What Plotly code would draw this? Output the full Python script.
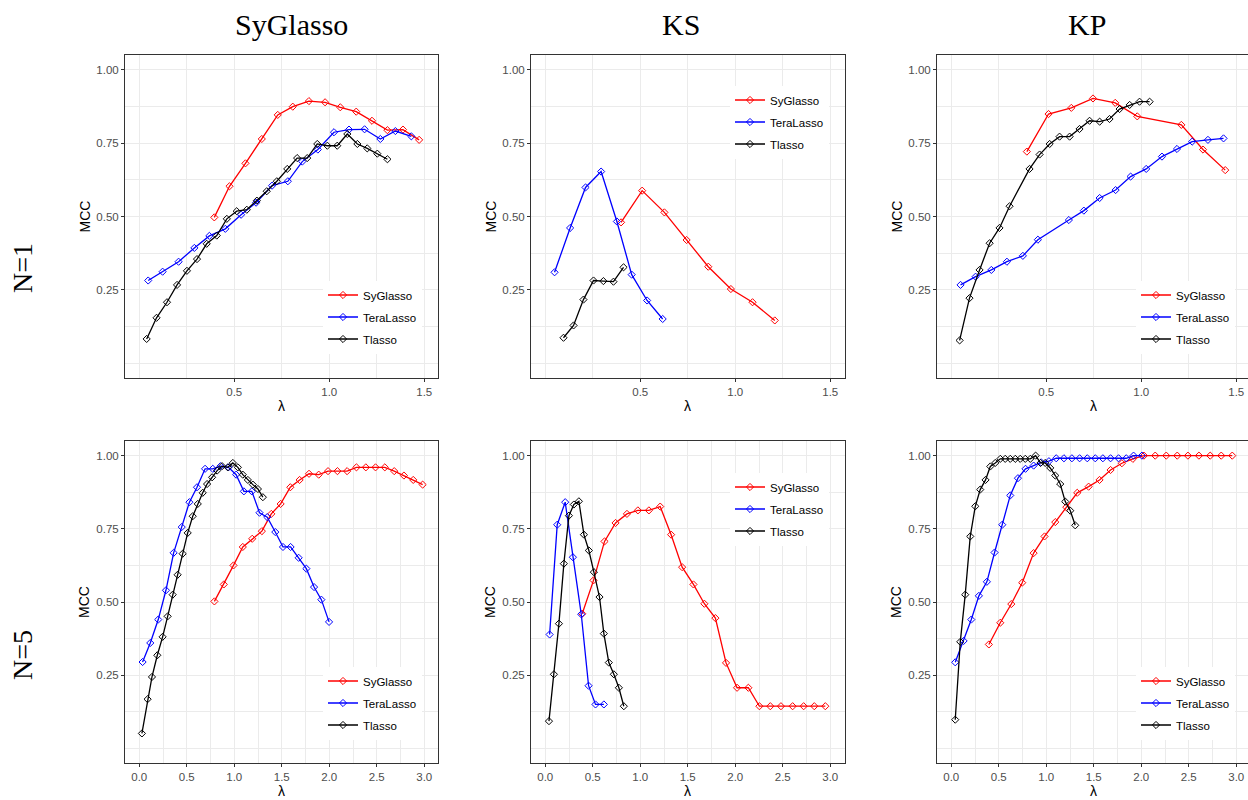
import plotly.graph_objects as go

W, H = 1248, 800

methods = ["SyGlasso", "TeraLasso", "Tlasso"]
method_colors = ["#FF0000", "#0000FF", "#000000"]
col_titles = ["SyGlasso", "KS", "KP"]
row_titles = ["N=1", "N=5"]

y_ticks = [0.25, 0.5, 0.75, 1.0]
y_ticklabels = ["0.25", "0.50", "0.75", "1.00"]
y_minor = [0.0, 0.125, 0.375, 0.625, 0.875]
x_ticks_n1 = [0.5, 1.0, 1.5]
x_ticklabels_n1 = ["0.5", "1.0", "1.5"]
x_minor_n1 = [0.0, 0.25, 0.75, 1.25]
x_ticks_n5 = [0.0, 0.5, 1.0, 1.5, 2.0, 2.5, 3.0]
x_ticklabels_n5 = ["0.0", "0.5", "1.0", "1.5", "2.0", "2.5", "3.0"]
x_minor_n5 = [0.25, 0.75, 1.25, 1.75, 2.25, 2.75]

# ---------------- N=1, SyGlasso generating model ----------------
n1_syg_syglasso_lam = [0.395, 0.475, 0.559, 0.645, 0.729, 0.808, 0.893, 0.978, 1.058, 1.142, 1.225, 1.306, 1.388, 1.473]
n1_syg_syglasso_mcc = [0.497, 0.603, 0.681, 0.764, 0.846, 0.874, 0.893, 0.889, 0.872, 0.857, 0.826, 0.794, 0.796, 0.761]
n1_syg_teralasso_lam = [0.047, 0.123, 0.207, 0.290, 0.369, 0.453, 0.536, 0.615, 0.699, 0.782, 0.858, 0.940, 1.025, 1.104, 1.186, 1.269, 1.348, 1.432]
n1_syg_teralasso_mcc = [0.282, 0.312, 0.346, 0.393, 0.434, 0.458, 0.506, 0.547, 0.605, 0.620, 0.687, 0.728, 0.787, 0.796, 0.797, 0.764, 0.791, 0.773]
n1_syg_tlasso_lam = [0.039, 0.091, 0.146, 0.199, 0.251, 0.304, 0.355, 0.408, 0.461, 0.513, 0.566, 0.619, 0.671, 0.724, 0.779, 0.831, 0.884, 0.937, 0.990, 1.042, 1.095, 1.148, 1.200, 1.253, 1.306]
n1_syg_tlasso_mcc = [0.083, 0.155, 0.208, 0.267, 0.315, 0.355, 0.407, 0.435, 0.492, 0.518, 0.523, 0.554, 0.586, 0.620, 0.662, 0.699, 0.699, 0.747, 0.741, 0.741, 0.781, 0.747, 0.732, 0.714, 0.695]

# ---------------- N=1, KS ----------------
n1_ks_syglasso_lam = [0.399, 0.510, 0.627, 0.744, 0.858, 0.977, 1.091, 1.208]
n1_ks_syglasso_mcc = [0.480, 0.588, 0.514, 0.420, 0.329, 0.253, 0.208, 0.146]
n1_ks_teralasso_lam = [0.049, 0.131, 0.212, 0.294, 0.377, 0.455, 0.536, 0.618]
n1_ks_teralasso_mcc = [0.310, 0.461, 0.599, 0.653, 0.483, 0.302, 0.214, 0.151]
n1_ks_tlasso_lam = [0.096, 0.149, 0.201, 0.254, 0.306, 0.359, 0.412]
n1_ks_tlasso_mcc = [0.087, 0.129, 0.217, 0.282, 0.280, 0.278, 0.327]

# ---------------- N=1, KP ----------------
n1_kp_syglasso_lam = [0.398, 0.512, 0.632, 0.746, 0.863, 0.979, 1.211, 1.325, 1.442]
n1_kp_syglasso_mcc = [0.721, 0.849, 0.870, 0.902, 0.887, 0.841, 0.812, 0.728, 0.658]
n1_kp_teralasso_lam = [0.049, 0.128, 0.211, 0.293, 0.377, 0.456, 0.619, 0.698, 0.781, 0.865, 0.944, 1.026, 1.109, 1.188, 1.268, 1.351, 1.433]
n1_kp_teralasso_mcc = [0.267, 0.295, 0.318, 0.346, 0.366, 0.421, 0.488, 0.520, 0.563, 0.590, 0.636, 0.662, 0.704, 0.730, 0.755, 0.761, 0.766]
n1_kp_tlasso_lam = [0.044, 0.096, 0.149, 0.202, 0.254, 0.307, 0.412, 0.465, 0.518, 0.570, 0.623, 0.675, 0.728, 0.781, 0.833, 0.886, 0.939, 0.991, 1.044]
n1_kp_tlasso_mcc = [0.078, 0.222, 0.318, 0.409, 0.461, 0.535, 0.662, 0.711, 0.747, 0.772, 0.772, 0.798, 0.826, 0.823, 0.832, 0.866, 0.880, 0.891, 0.891]

# ---------------- N=5, SyGlasso generating model ----------------
n5_syg_syglasso_lam = [0.791, 0.890, 0.992, 1.090, 1.189, 1.291, 1.390, 1.488, 1.590, 1.688, 1.787, 1.889, 1.987, 2.086, 2.188, 2.286, 2.385, 2.487, 2.585, 2.684, 2.786, 2.884, 2.983]
n5_syg_syglasso_mcc = [0.502, 0.560, 0.625, 0.688, 0.716, 0.742, 0.801, 0.835, 0.892, 0.917, 0.938, 0.935, 0.947, 0.947, 0.947, 0.960, 0.960, 0.960, 0.960, 0.947, 0.932, 0.917, 0.901]
n5_syg_teralasso_lam = [0.035, 0.116, 0.200, 0.281, 0.362, 0.447, 0.528, 0.608, 0.693, 0.774, 0.855, 0.939, 1.020, 1.101, 1.185, 1.266, 1.347, 1.432, 1.513, 1.593, 1.678, 1.759, 1.840, 1.917, 1.998]
n5_syg_teralasso_mcc = [0.295, 0.360, 0.440, 0.540, 0.668, 0.756, 0.841, 0.892, 0.955, 0.955, 0.964, 0.960, 0.935, 0.878, 0.878, 0.805, 0.790, 0.739, 0.688, 0.688, 0.651, 0.614, 0.551, 0.508, 0.432]
n5_syg_tlasso_lam = [0.028, 0.088, 0.134, 0.190, 0.246, 0.299, 0.352, 0.404, 0.457, 0.510, 0.563, 0.616, 0.668, 0.714, 0.767, 0.820, 0.872, 0.932, 0.985, 1.038, 1.090, 1.143, 1.196, 1.249, 1.301]
n5_syg_tlasso_mcc = [0.051, 0.168, 0.244, 0.318, 0.381, 0.451, 0.525, 0.593, 0.665, 0.736, 0.793, 0.835, 0.873, 0.903, 0.926, 0.949, 0.964, 0.960, 0.975, 0.960, 0.935, 0.917, 0.901, 0.886, 0.858]

# ---------------- N=5, KS ----------------
n5_ks_syglasso_lam = [0.389, 0.508, 0.624, 0.740, 0.860, 0.975, 1.091, 1.210, 1.325, 1.441, 1.560, 1.675, 1.791, 1.903, 2.019, 2.138, 2.254, 2.369, 2.481, 2.604, 2.720, 2.832, 2.948]
n5_ks_syglasso_mcc = [0.460, 0.574, 0.707, 0.770, 0.801, 0.813, 0.813, 0.826, 0.730, 0.619, 0.560, 0.494, 0.445, 0.292, 0.207, 0.207, 0.144, 0.144, 0.144, 0.144, 0.144, 0.144, 0.144]
n5_ks_teralasso_lam = [0.046, 0.126, 0.210, 0.291, 0.379, 0.456, 0.529, 0.617]
n5_ks_teralasso_mcc = [0.389, 0.764, 0.841, 0.653, 0.458, 0.214, 0.150, 0.150]
n5_ks_tlasso_lam = [0.039, 0.091, 0.144, 0.196, 0.249, 0.301, 0.354, 0.407, 0.459, 0.512, 0.571, 0.617, 0.669, 0.722, 0.775, 0.827]
n5_ks_tlasso_mcc = [0.093, 0.253, 0.426, 0.631, 0.795, 0.833, 0.844, 0.730, 0.676, 0.602, 0.517, 0.392, 0.293, 0.253, 0.207, 0.144]

# ---------------- N=5, KP ----------------
n5_kp_syglasso_lam = [0.396, 0.516, 0.632, 0.747, 0.867, 0.982, 1.095, 1.211, 1.326, 1.446, 1.561, 1.677, 1.796, 1.912, 2.028, 2.147, 2.263, 2.379, 2.491, 2.607, 2.726, 2.842, 2.958]
n5_kp_syglasso_mcc = [0.355, 0.429, 0.493, 0.566, 0.667, 0.724, 0.773, 0.824, 0.873, 0.894, 0.917, 0.951, 0.974, 0.989, 1.0, 1.0, 1.0, 1.0, 1.0, 1.0, 1.0, 1.0, 1.0]
n5_kp_teralasso_lam = [0.042, 0.130, 0.211, 0.291, 0.375, 0.456, 0.537, 0.621, 0.702, 0.782, 0.867, 0.947, 1.028, 1.105, 1.186, 1.270, 1.351, 1.432, 1.516, 1.596, 1.677, 1.761, 1.842, 1.919, 2.007]
n5_kp_teralasso_mcc = [0.294, 0.367, 0.440, 0.521, 0.569, 0.669, 0.764, 0.864, 0.923, 0.955, 0.966, 0.977, 0.981, 0.991, 0.991, 0.991, 0.991, 0.991, 0.991, 0.991, 0.991, 0.991, 0.991, 1.0, 1.0]
n5_kp_tlasso_lam = [0.042, 0.095, 0.147, 0.200, 0.253, 0.305, 0.361, 0.411, 0.463, 0.516, 0.568, 0.621, 0.674, 0.726, 0.779, 0.832, 0.888, 0.940, 0.989, 1.042, 1.095, 1.147, 1.200, 1.253, 1.305]
n5_kp_tlasso_mcc = [0.098, 0.364, 0.525, 0.724, 0.827, 0.884, 0.917, 0.963, 0.975, 0.989, 0.989, 0.989, 0.989, 0.989, 0.989, 0.989, 1.0, 0.975, 0.975, 0.958, 0.932, 0.903, 0.843, 0.812, 0.762]

panels = [
    [(n1_syg_syglasso_lam, n1_syg_syglasso_mcc), (n1_syg_teralasso_lam, n1_syg_teralasso_mcc), (n1_syg_tlasso_lam, n1_syg_tlasso_mcc)],
    [(n1_ks_syglasso_lam, n1_ks_syglasso_mcc), (n1_ks_teralasso_lam, n1_ks_teralasso_mcc), (n1_ks_tlasso_lam, n1_ks_tlasso_mcc)],
    [(n1_kp_syglasso_lam, n1_kp_syglasso_mcc), (n1_kp_teralasso_lam, n1_kp_teralasso_mcc), (n1_kp_tlasso_lam, n1_kp_tlasso_mcc)],
    [(n5_syg_syglasso_lam, n5_syg_syglasso_mcc), (n5_syg_teralasso_lam, n5_syg_teralasso_mcc), (n5_syg_tlasso_lam, n5_syg_tlasso_mcc)],
    [(n5_ks_syglasso_lam, n5_ks_syglasso_mcc), (n5_ks_teralasso_lam, n5_ks_teralasso_mcc), (n5_ks_tlasso_lam, n5_ks_tlasso_mcc)],
    [(n5_kp_syglasso_lam, n5_kp_syglasso_mcc), (n5_kp_teralasso_lam, n5_kp_teralasso_mcc), (n5_kp_tlasso_lam, n5_kp_tlasso_mcc)],
]

# ---------------- layout geometry (pixels) ----------------
col_px = [(125, 438), (531, 845), (937, 1248)]
row_px = [(55, 378), (441, 763)]
# legend anchor: (left px, middle-entry centre px) per panel
legend_pos = [(323, 317), (730, 122), (1136, 317),
              (323, 703), (730, 509), (1136, 703)]

SANS = "Liberation Sans, Arial, sans-serif"
SERIF = "Liberation Serif, Times New Roman, serif"
GRID = "#EBEBEB"

fig = go.Figure()
layout = dict(
    width=W, height=H, margin=dict(l=0, r=0, t=0, b=0),
    paper_bgcolor="white", plot_bgcolor="white",
    font=dict(family=SANS, size=11.5, color="#4D4D4D"),
    annotations=[],
)

for p in range(6):
    r, c = divmod(p, 3)
    idx = p + 1
    sfx = "" if idx == 1 else str(idx)
    leg = "legend" if idx == 1 else f"legend{idx}"
    for m, (lam, mcc) in enumerate(panels[p]):
        fig.add_trace(go.Scatter(
            x=lam, y=mcc, mode="lines+markers", name=methods[m],
            xaxis=f"x{sfx}", yaxis=f"y{sfx}", legend=leg,
            legendgroup=f"g{idx}_{m}",
            line=dict(color=method_colors[m], width=1.3),
            marker=dict(symbol="diamond-open", size=5.5,
                        color=method_colors[m], line=dict(width=1, color=method_colors[m])),
        ))
    x0, x1 = col_px[c]
    y0, y1 = row_px[r]
    unit = 190.0 if r == 0 else 95.0
    left_val = -0.075 if r == 0 else -0.15
    zero_px = x0 + (-left_val) * unit
    right_val = (x1 - zero_px) / unit
    if r == 0:
        tv, tt, mv = x_ticks_n1, x_ticklabels_n1, x_minor_n1
    else:
        tv, tt, mv = x_ticks_n5, x_ticklabels_n5, x_minor_n5
    layout[f"xaxis{sfx}"] = dict(
        domain=[x0 / W, x1 / W], anchor=f"y{sfx}", range=[left_val, right_val],
        tickmode="array", tickvals=tv, ticktext=tt,
        showgrid=True, gridcolor=GRID, gridwidth=1.1,
        minor=dict(tickmode="array", tickvals=mv, showgrid=True, gridcolor=GRID, gridwidth=0.55, ticks=""),
        showline=True, linecolor="#333333", linewidth=1, mirror=True,
        ticks="outside", ticklen=3, tickwidth=1, tickcolor="#333333",
        tickfont=dict(family=SANS, size=11.5, color="#4D4D4D"),
        zeroline=False, fixedrange=True,
    )
    layout[f"yaxis{sfx}"] = dict(
        domain=[1 - y1 / H, 1 - y0 / H], anchor=f"x{sfx}", range=[-0.05, 1.05],
        tickmode="array", tickvals=y_ticks, ticktext=y_ticklabels,
        showgrid=True, gridcolor=GRID, gridwidth=1.1,
        minor=dict(tickmode="array", tickvals=y_minor, showgrid=True, gridcolor=GRID, gridwidth=0.55, ticks=""),
        showline=True, linecolor="#333333", linewidth=1, mirror=(c != 2),
        ticks="outside", ticklen=3, tickwidth=1, tickcolor="#333333",
        tickfont=dict(family=SANS, size=11.5, color="#4D4D4D"),
        zeroline=False, fixedrange=True,
    )
    lx, ly = legend_pos[p]
    layout[leg] = dict(
        x=lx / W, xanchor="left", y=1 - ly / H, yanchor="middle",
        bgcolor="white", borderwidth=0, traceorder="grouped", tracegroupgap=3,
        font=dict(family=SANS, size=11.5, color="#000000"),
        itemwidth=30, itemclick=False, itemdoubleclick=False,
    )
    # axis titles
    layout["annotations"].append(dict(
        text="MCC", x=(x0 - 41) / W, y=1 - ((y0 + y1) / 2) / H, xref="paper", yref="paper",
        xanchor="center", yanchor="middle", textangle=-90, showarrow=False,
        font=dict(family=SANS, size=14, color="#000000")))
    px_center = (col_px[c][0] + (col_px[c][0] + 313)) / 2
    layout["annotations"].append(dict(
        text="λ", x=px_center / W, y=1 - (y1 + 28) / H, xref="paper", yref="paper",
        xanchor="center", yanchor="middle", showarrow=False,
        font=dict(family=SANS, size=14, color="#000000")))

for c, (t, cx) in enumerate(zip(col_titles, [291, 681, 1087])):
    layout["annotations"].append(dict(
        text=t, x=cx / W, y=1 - 24 / H, xref="paper", yref="paper",
        xanchor="center", yanchor="middle", showarrow=False,
        font=dict(family=SERIF, size=30, color="#000000")))

for r, (t, cy) in enumerate(zip(row_titles, [268, 655])):
    layout["annotations"].append(dict(
        text=t, x=22 / W, y=1 - cy / H, xref="paper", yref="paper",
        xanchor="center", yanchor="middle", textangle=-90, showarrow=False,
        font=dict(family=SERIF, size=28, color="#000000")))

fig.update_layout(**layout)
fig.write_html("out.html")
